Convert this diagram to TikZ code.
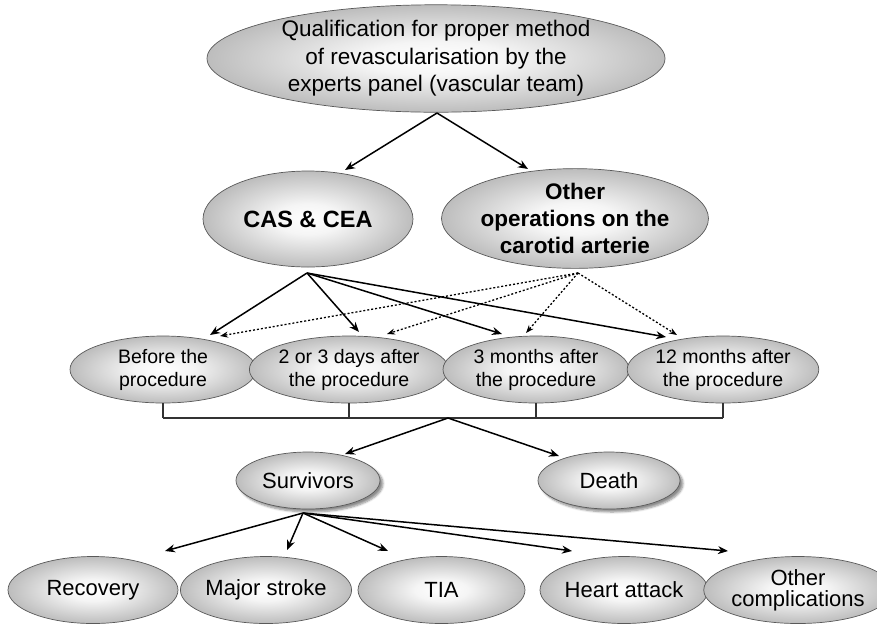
\documentclass[tikz,border=0pt]{standalone}
\usepackage{fontspec}
\setmainfont{Liberation Sans}
\usetikzlibrary{shapes.geometric,arrows.meta,calc,shadows.blur}
\pgfdeclareradialshading{ellshade}{\pgfpoint{0bp}{0bp}}{%
  color(0bp)=(white);
  color(8bp)=(white!96!black);
  color(25bp)=(black!26);
  color(50bp)=(black!26)}
\begin{document}
\begin{tikzpicture}[x=1pt,y=-1pt,
  ell/.style={ellipse, draw=gray!70!black, line width=0.7pt, shading=ellshade, inner sep=0pt, align=center},
  arr/.style={line width=1.5pt, -{Stealth[length=10pt,width=8pt]}},
  darr/.style={line width=1.3pt, dash pattern=on 2pt off 2pt, -{Stealth[length=8pt,width=6pt]}},
  shad/.style={blur shadow={shadow xshift=3pt,shadow yshift=-3pt,shadow opacity=45,shadow blur steps=6}},
  brk/.style={line width=1.1pt, black!80},
  topf/.style={font=\fontsize{22.5}{27.5}\selectfont},
  midf/.style={font=\bfseries\fontsize{22.5}{27}\selectfont},
  timef/.style={font=\fontsize{19.5}{23}\selectfont},
  lowf/.style={font=\fontsize{22}{21}\selectfont}
]
\useasboundingbox (0,0) rectangle (877,625);

% nodes
\node[ell,topf,minimum width=458pt,minimum height=103pt] (top) at (436,58.5)
  {Qualification for proper method\\of revascularisation by the\\experts panel (vascular team)};
\node[ell,font=\bfseries\fontsize{23.5}{27}\selectfont,minimum width=210pt,minimum height=96pt] (cas) at (308,219) {CAS \& CEA};
\node[ell,midf,minimum width=206pt,minimum height=91pt] (oth) at (575,218.5)
  {Other\\operations on the\\carotid arterie};

\node[ell,timef,minimum width=186pt,minimum height=67pt] (t1) at (163,369.5) {Before the\\procedure};
\node[ell,timef,minimum width=186pt,minimum height=67pt] (t2) at (349,369.5) {2 or 3 days after\\the procedure};
\node[ell,timef,minimum width=186pt,minimum height=67pt] (t3) at (536,369.5) {3 months after\\the procedure};
\node[ell,timef,minimum width=186pt,minimum height=67pt] (t4) at (723,369.5) {12 months after\\the procedure};

\node[ell,lowf,shad,minimum width=144pt,minimum height=57pt] (surv) at (308,480.5) {Survivors};
\node[ell,lowf,shad,minimum width=142pt,minimum height=57pt] (death) at (609,480.5) {Death};

\node[ell,lowf,minimum width=170pt,minimum height=67pt] (rec) at (93,590) {Recovery};
\node[ell,lowf,minimum width=166pt,minimum height=67pt] (maj) at (266,590) {Major stroke};
\node[ell,lowf,minimum width=167pt,minimum height=67pt] (tia) at (441.5,590) {TIA};
\node[ell,lowf,minimum width=168pt,minimum height=67pt] (heart) at (624,590) {Heart attack};
\node[ell,lowf,minimum width=162pt,minimum height=67pt] (othc) at (798,590) {Other\\complications};

% branch points and arrow ends
\coordinate (a0) at (437,113);
\coordinate (casin) at (345,170);
\coordinate (othin) at (528,169);
\coordinate (a1) at (307,273);
\coordinate (a2) at (578,273);
\coordinate (s1) at (210,335);
\coordinate (s2) at (359,332);
\coordinate (s3) at (502,334);
\coordinate (s4) at (666,337);
\coordinate (d1) at (220,336);
\coordinate (d2) at (387,334);
\coordinate (d3) at (526,333);
\coordinate (d4) at (677,335);
\coordinate (b0) at (448,418);
\coordinate (survin) at (345,454);
\coordinate (deathin) at (559,456);
\coordinate (a3) at (303,513);
\coordinate (r1) at (165,551);
\coordinate (r2) at (287,550);
\coordinate (r3) at (388,551);
\coordinate (r4) at (572,551);
\coordinate (r5) at (728,551);

\draw[arr] (a0) -- (casin);
\draw[arr] (a0) -- (othin);

\foreach \t in {s1,s2,s3,s4} \draw[arr] (a1) -- (\t);
\foreach \t in {d1,d2,d3,d4} \draw[darr] (a2) -- (\t);

\foreach \n in {t1,t2,t3,t4} \draw[brk] (\n.south) -- (\n.south |- b0);
\draw[brk] (t1.south |- b0) -- (t4.south |- b0);

\draw[arr] (b0) -- (survin);
\draw[arr] (b0) -- (deathin);

\foreach \t in {r1,r2,r3,r4,r5} \draw[arr] (a3) -- (\t);
\end{tikzpicture}
\end{document}
